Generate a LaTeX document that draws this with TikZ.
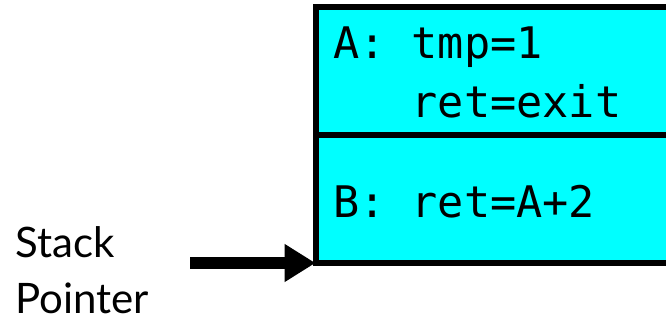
\documentclass[tikz,border=0pt]{standalone}
\usepackage{xcolor}
\usepackage{fontspec}
\setmonofont{DejaVu Sans Mono}
\newfontfamily\labelfont{Lato}
\usepackage{tikz}
\usetikzlibrary{arrows.meta}
\definecolor{framecyan}{RGB}{0,255,255}

\begin{document}
\begin{tikzpicture}[x=1pt,y=-1pt,
                    frame/.style={draw, fill=framecyan, line width=6pt, outer sep=0pt, inner sep=0pt,
                                  anchor=north west, minimum width=420pt, minimum height=127.5pt},
                    slot/.style={anchor=base west, inner sep=0pt, font=\fontsize{43.5}{43.5}\selectfont\ttfamily},
                    splabel/.style={anchor=base west, inner sep=0pt, font=\fontsize{42}{42}\selectfont\labelfont}]
                    \clip (0,0) rectangle (666,329);
                    \node[frame] (fA) at (315.5,7) {};
                    \node[frame, minimum height=128.5pt] (fB) at (fA.south west) {};
                    \node[slot] (tmpA) at (333,59) {A: tmp=1};
                    \node[slot] (retA) at ([yshift=-58pt]tmpA.base west) {\phantom{A:~}ret=exit};
                    \node[slot] (retB) at (333,217) {B: ret=A+2};
                    \node[splabel] (spTop) at (15,257) {Stack};
                    \node[splabel] (spBot) at (15,313) {Pointer};
                    \coordinate (spTail) at (190,263);
                    \draw [line width=12pt, -{Triangle[length=31pt,width=36pt]}](spTail) -- (fB.south west);
                \end{tikzpicture}
\end{document}
